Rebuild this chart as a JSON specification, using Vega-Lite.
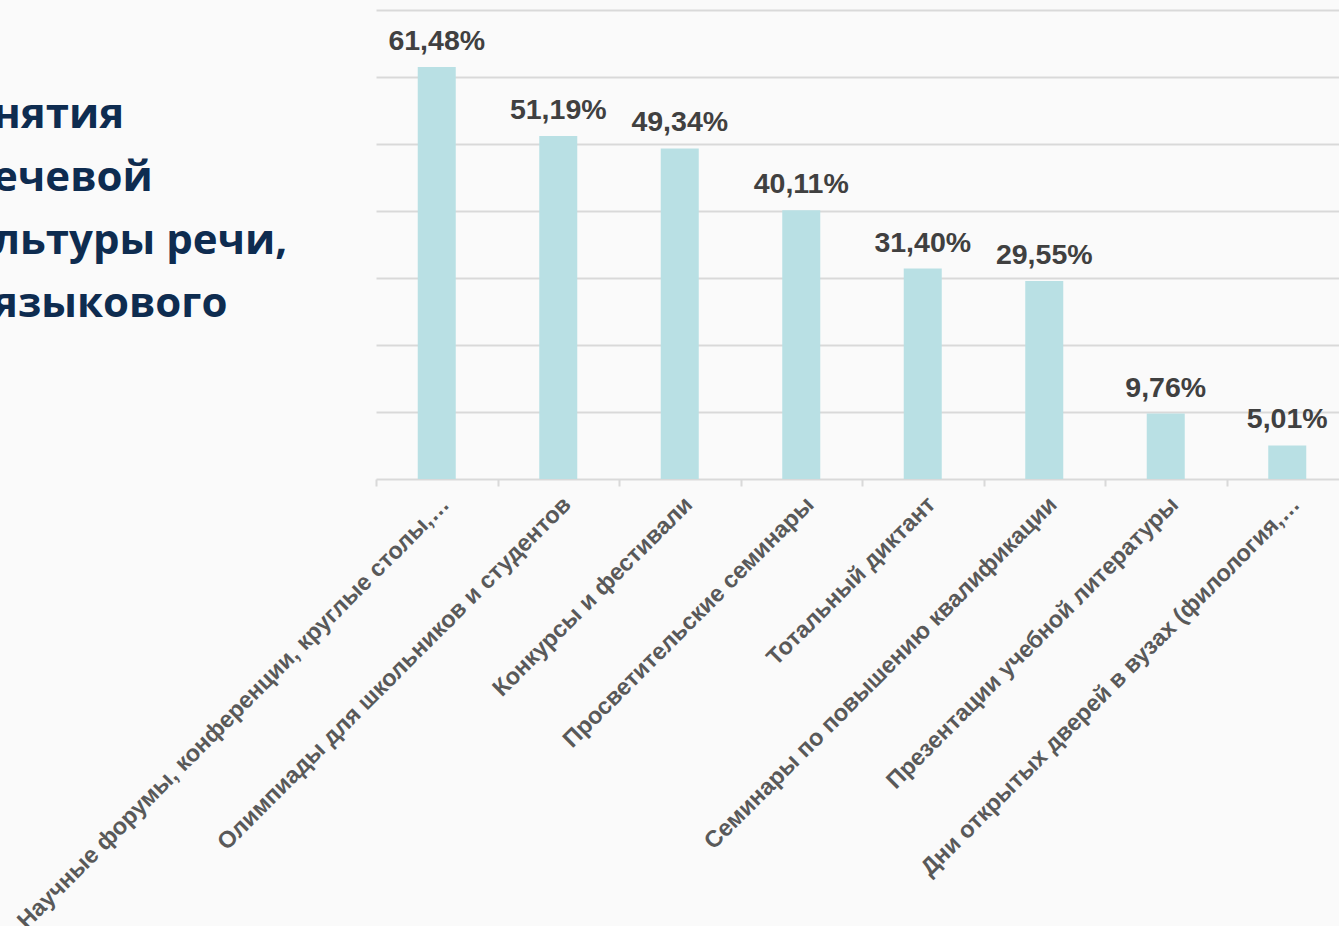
{
  "$schema": "https://vega.github.io/schema/vega-lite/v6.json",
  "width": 963,
  "height": 469,
  "autosize": {"type": "none"},
  "padding": {"left": 376, "top": 10, "right": 0, "bottom": 447},
  "background": "#fafafa",
  "title": {
    "text": ["нятия", "ечевой", "льтуры речи,", "языкового"],
    "anchor": "start",
    "frame": "group",
    "orient": "top",
    "dx": -383,
    "dy": 316,
    "offset": 0,
    "baseline": "top",
    "font": "Open Sans",
    "fontSize": 42,
    "fontWeight": "bold",
    "color": "#0e2c50",
    "lineHeight": 63
  },
  "data": {
    "values": [
      {"cat": "Научные форумы, конференции, круглые столы,…", "value": 0.6148, "label": "61,48%"},
      {"cat": "Олимпиады для школьников и студентов", "value": 0.5119, "label": "51,19%"},
      {"cat": "Конкурсы и фестивали", "value": 0.4934, "label": "49,34%"},
      {"cat": "Просветительские семинары", "value": 0.4011, "label": "40,11%"},
      {"cat": "Тотальный диктант", "value": 0.3140, "label": "31,40%"},
      {"cat": "Семинары по повышению квалификации", "value": 0.2955, "label": "29,55%"},
      {"cat": "Презентации учебной литературы", "value": 0.0976, "label": "9,76%"},
      {"cat": "Дни открытых дверей в вузах (филология,…", "value": 0.0501, "label": "5,01%"}
    ]
  },
  "encoding": {
    "x": {
      "field": "cat",
      "type": "nominal",
      "sort": null,
      "scale": {"range": [0, 972], "paddingInner": 0, "paddingOuter": 0},
      "axis": {
        "title": null,
        "labelAngle": -45,
        "labelFont": "Liberation Sans",
        "labelFontSize": 23.5,
        "labelFontWeight": "bold",
        "labelColor": "#595959",
        "labelLimit": 0,
        "labelPadding": 6,
        "domainColor": "#d9d9d9",
        "domainWidth": 2,
        "tickColor": "#d9d9d9",
        "tickWidth": 2,
        "tickSize": 7,
        "tickBand": "extent",
        "grid": false
      }
    },
    "y": {
      "field": "value",
      "type": "quantitative",
      "scale": {"domain": [0, 0.7], "nice": false},
      "axis": {
        "title": null,
        "labels": false,
        "ticks": false,
        "domain": false,
        "grid": true,
        "gridColor": "#d9d9d9",
        "gridWidth": 2,
        "values": [0.1, 0.2, 0.3, 0.4, 0.5, 0.6, 0.7]
      }
    }
  },
  "layer": [
    {"mark": {"type": "bar", "color": "#b9e0e4", "width": 38}},
    {
      "mark": {
        "type": "text",
        "dy": -17,
        "baseline": "alphabetic",
        "font": "Liberation Sans",
        "fontSize": 28.5,
        "fontWeight": "bold",
        "color": "#404040"
      },
      "encoding": {"text": {"field": "label"}}
    }
  ],
  "config": {"view": {"stroke": null}}
}
